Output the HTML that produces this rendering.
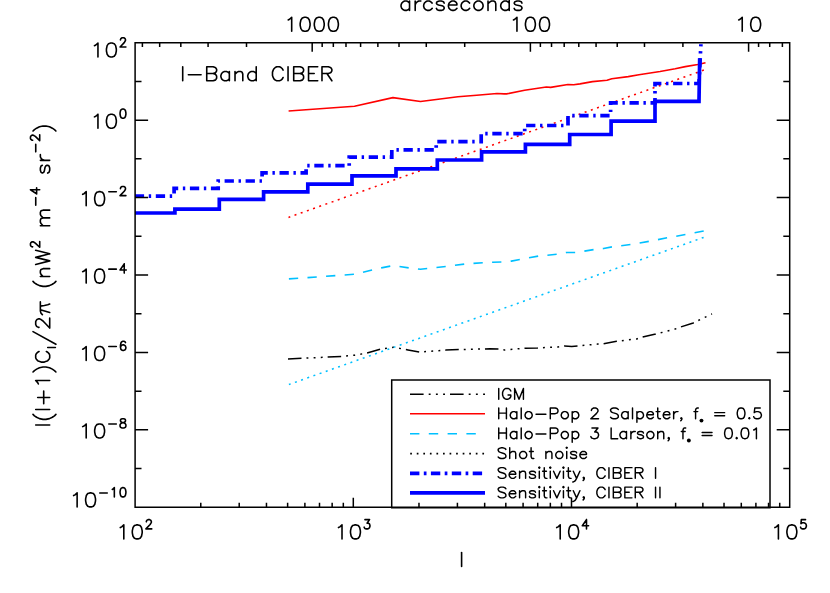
<!DOCTYPE html>
<html><head><meta charset="utf-8"><title>plot</title><style>html,body{margin:0;padding:0;background:#fff;font-family:"Liberation Sans",sans-serif}svg{display:block}</style></head><body>
<svg width="830" height="593" viewBox="0 0 830 593">
<rect width="830" height="593" fill="#fff"/>
<defs><clipPath id="c"><rect x="135.1" y="44.3" width="654.6" height="463"/></clipPath></defs>
<g clip-path="url(#c)" fill="none">
<path d="M288 358.9 L341.4 356.5 L354.5 355.2 L366.7 353.1 L380.5 349.2 L393.7 347.2 L408 350 L419.8 352.1 L445.8 350.1 L458.8 349.6 L490 348.8 L498.7 349 L504.5 350 L524.7 348.2 L537.7 347.9 L558 346.9 L564.5 345.9 L571.7 346.6 L577.5 345.9 L597.7 344.1 L603.6 343.8 L616.6 341.3 L636.9 338.9 L642.6 337.1 L655.7 334.1 L674.5 329.3 L681 326.9 L693.2 323 L712 313.9" stroke="#000" stroke-width="1.5" stroke-dasharray="13.5 5 1.9 5.25 1.9 5.25 1.9 5" />
<path d="M288.6 111 L354.5 106.3 L392.9 97.6 L420.5 101.5 L457.9 96.7 L476.7 95.2 L497 93.5 L504.2 93.9 L506.5 93.9 L524.6 90.3 L546.3 87 L550.6 87.4 L567.9 84.5 L573.7 84.8 L580 83.9 L592.5 81.6 L607 80.2 L611.8 78.7 L628.2 76.6 L638.9 74.7 L660 71.5 L675.2 68.8 L685.3 66.6 L697.8 64.5 L705.5 62.8" stroke="#f00" stroke-width="1.6" stroke-linejoin="round"/>
<path d="M288.9 278.9 L354 274.3 L381.4 267.9 L393 265.6 L408.9 267.9 L420.5 269.3 L445.9 266.5 L464.3 264.1 L483.1 262.7 L492.6 262.3 L501.6 262 L511.4 261.1 L520.1 259.4 L538.4 256.1 L556.9 254.3 L566.6 252.5 L575.6 252.5 L593.8 249.6 L603.6 248.5 L612.3 246.8 L630.6 244.5 L649.2 241.3 L667.2 237.8 L685.6 234.5 L703.8 230.9" stroke="#00c0ff" stroke-width="1.6" stroke-dasharray="9.3 9.33"/>
<path d="M288.5 217.4 L704.2 69.95" stroke="#f00" stroke-width="1.55" stroke-dasharray="2 4.55" stroke-dashoffset="0.15"/>
<path d="M288.9 384.5 L704.0 237.3" stroke="#00c0ff" stroke-width="1.55" stroke-dasharray="2 4.54" stroke-dashoffset="0.15"/>
<path d="M130 196.2 L174.1 196.2 L174.1 188.3 L218.2 188.3 L218.2 181 L262.1 181 L262.1 172.9 L306.1 172.9 L306.1 165.7 L349.2 165.7 L349.2 157.1 L391.8 157.1 L391.8 149.9 L436.2 149.9 L436.2 141.7 L481.2 141.7 L481.2 133.7 L524.7 133.7 L524.7 125.5 L568 125.5 L568 115.7 L610.6 115.7 L610.6 102.9 L655 102.9 L655 83.5 L699 83.5 L701.3 36" stroke="#00f" stroke-width="3.7" stroke-linejoin="miter" stroke-dasharray="9.3 4.65 2.4 4.65" stroke-dashoffset="16.2"/>
<path d="M130 213 L174.9 213 L174.9 209.1 L219.3 209.1 L219.3 199.3 L263.6 199.3 L263.6 191.9 L307.8 191.9 L307.8 184.2 L352 184.2 L352 175.9 L396 175.9 L396 168.8 L437.3 168.8 L437.3 160 L481.6 160 L481.6 151.9 L525.4 151.9 L525.4 144.3 L569.7 144.3 L569.7 134.5 L611.1 134.5 L611.1 121.2 L655 121.2 L655 101.3 L699 101.3 L699.7 58.2" stroke="#00f" stroke-width="3.7" stroke-linejoin="miter"/>
</g>
<path d="M135.1 42.7 H789.7 V507.3 H135.1 ZM135.1 507.3 v-9.5M200.78 507.3 v-4.5M239.21 507.3 v-4.5M266.47 507.3 v-4.5M287.62 507.3 v-4.5M304.89 507.3 v-4.5M319.5 507.3 v-4.5M332.15 507.3 v-4.5M343.32 507.3 v-4.5M353.3 507.3 v-9.5M418.98 507.3 v-4.5M457.41 507.3 v-4.5M484.67 507.3 v-4.5M505.82 507.3 v-4.5M523.09 507.3 v-4.5M537.7 507.3 v-4.5M550.35 507.3 v-4.5M561.52 507.3 v-4.5M571.5 507.3 v-9.5M637.18 507.3 v-4.5M675.61 507.3 v-4.5M702.87 507.3 v-4.5M724.02 507.3 v-4.5M741.29 507.3 v-4.5M755.9 507.3 v-4.5M768.55 507.3 v-4.5M779.72 507.3 v-4.5M789.7 507.3 v-9.5M782.39 42.7 v4.4M769.73 42.7 v4.4M758.57 42.7 v4.4M748.59 42.7 v9M682.9 42.7 v4.4M644.48 42.7 v4.4M617.22 42.7 v4.4M596.07 42.7 v4.4M578.79 42.7 v4.4M564.19 42.7 v4.4M551.53 42.7 v4.4M540.37 42.7 v4.4M530.39 42.7 v9M464.7 42.7 v4.4M426.28 42.7 v4.4M399.02 42.7 v4.4M377.87 42.7 v4.4M360.59 42.7 v4.4M345.99 42.7 v4.4M333.33 42.7 v4.4M322.17 42.7 v4.4M312.19 42.7 v9M246.5 42.7 v4.4M208.08 42.7 v4.4M180.82 42.7 v4.4M159.67 42.7 v4.4M142.39 42.7 v4.4M135.1 507.3 h13M789.7 507.3 h-13M135.1 468.58 h6.4M789.7 468.58 h-6.4M135.1 429.87 h13M789.7 429.87 h-13M135.1 391.15 h6.4M789.7 391.15 h-6.4M135.1 352.43 h13M789.7 352.43 h-13M135.1 313.72 h6.4M789.7 313.72 h-6.4M135.1 275 h13M789.7 275 h-13M135.1 236.28 h6.4M789.7 236.28 h-6.4M135.1 197.57 h13M789.7 197.57 h-13M135.1 158.85 h6.4M789.7 158.85 h-6.4M135.1 120.13 h13M789.7 120.13 h-13M135.1 81.42 h6.4M789.7 81.42 h-6.4M135.1 42.7 h13M789.7 42.7 h-13" fill="none" stroke="#000" stroke-width="1.5" stroke-linecap="butt" stroke-linejoin="miter"/>
<path d="M391.7 507.8 V379.9 H770 V507.8 Z" fill="none" stroke="#000" stroke-width="1.5"/>
<path d="M410 394.2 H485" stroke="#000" stroke-width="1.5" stroke-dasharray="13.6 5.1 1.9 5.3 1.9 5.3 1.9 5.0"/>
<path d="M410 413.8 H485" stroke="#f00" stroke-width="1.6"/>
<path d="M410 433.7 H485" stroke="#00c0ff" stroke-width="1.6" stroke-dasharray="9.4 9.4"/>
<path d="M410.2 453.6 H485" stroke="#000" stroke-width="1.6" stroke-dasharray="1.7 4.86"/>
<path d="M410 473.4 H485" stroke="#00f" stroke-width="3.7" stroke-dasharray="9.4 4.4 2.7 4.4"/>
<path d="M410 492.9 H485" stroke="#00f" stroke-width="3.8"/>
<g transform="translate(496.55 399.15)"><path d="M2.19 -10.72 L2.19 0M14.26 -8.16 L13.71 -9.18 L12.61 -10.21 L11.51 -10.72 L9.32 -10.72 L8.22 -10.21 L7.13 -9.18 L6.58 -8.16 L6.03 -6.63 L6.03 -4.08 L6.58 -2.55 L7.13 -1.53 L8.22 -0.51 L9.32 0 L11.51 0 L12.61 -0.51 L13.71 -1.53 L14.26 -2.55 L14.26 -4.08M11.51 -4.08 L14.26 -4.08M18.09 -10.72 L18.09 0M18.09 -10.72 L22.48 0M26.87 -10.72 L22.48 0M26.87 -10.72 L26.87 0" fill="none" stroke="#000" stroke-width="1.45" stroke-linecap="round" stroke-linejoin="round"/></g>
<g transform="translate(496.55 418.75)"><path d="M2.19 -10.72 L2.19 0M9.87 -10.72 L9.87 0M2.19 -5.61 L9.87 -5.61M20.29 -7.14 L20.29 0M20.29 -5.61 L19.19 -6.63 L18.09 -7.14 L16.45 -7.14 L15.35 -6.63 L14.26 -5.61 L13.71 -4.08 L13.71 -3.06 L14.26 -1.53 L15.35 -0.51 L16.45 0 L18.09 0 L19.19 -0.51 L20.29 -1.53M24.67 -10.72 L24.67 0M31.25 -7.14 L30.16 -6.63 L29.06 -5.61 L28.51 -4.08 L28.51 -3.06 L29.06 -1.53 L30.16 -0.51 L31.25 0 L32.9 0 L33.99 -0.51 L35.09 -1.53 L35.64 -3.06 L35.64 -4.08 L35.09 -5.61 L33.99 -6.63 L32.9 -7.14 L31.25 -7.14M39.48 -4.59 L49.35 -4.59M53.73 -10.72 L53.73 0M53.73 -10.72 L58.67 -10.72 L60.31 -10.21 L60.86 -9.69 L61.41 -8.67 L61.41 -7.14 L60.86 -6.12 L60.31 -5.61 L58.67 -5.1 L53.73 -5.1M67.44 -7.14 L66.34 -6.63 L65.25 -5.61 L64.7 -4.08 L64.7 -3.06 L65.25 -1.53 L66.34 -0.51 L67.44 0 L69.08 0 L70.18 -0.51 L71.28 -1.53 L71.82 -3.06 L71.82 -4.08 L71.28 -5.61 L70.18 -6.63 L69.08 -7.14 L67.44 -7.14M75.66 -7.14 L75.66 3.57M75.66 -5.61 L76.76 -6.63 L77.86 -7.14 L79.5 -7.14 L80.6 -6.63 L81.69 -5.61 L82.24 -4.08 L82.24 -3.06 L81.69 -1.53 L80.6 -0.51 L79.5 0 L77.86 0 L76.76 -0.51 L75.66 -1.53M94.85 -8.16 L94.85 -8.67 L95.4 -9.69 L95.95 -10.21 L97.05 -10.72 L99.24 -10.72 L100.33 -10.21 L100.88 -9.69 L101.43 -8.67 L101.43 -7.65 L100.88 -6.63 L99.79 -5.1 L94.3 0 L101.98 0M121.72 -9.18 L120.62 -10.21 L118.98 -10.72 L116.78 -10.72 L115.14 -10.21 L114.04 -9.18 L114.04 -8.16 L114.59 -7.14 L115.14 -6.63 L116.24 -6.12 L119.52 -5.1 L120.62 -4.59 L121.17 -4.08 L121.72 -3.06 L121.72 -1.53 L120.62 -0.51 L118.98 0 L116.78 0 L115.14 -0.51 L114.04 -1.53M131.59 -7.14 L131.59 0M131.59 -5.61 L130.49 -6.63 L129.39 -7.14 L127.75 -7.14 L126.65 -6.63 L125.56 -5.61 L125.01 -4.08 L125.01 -3.06 L125.56 -1.53 L126.65 -0.51 L127.75 0 L129.39 0 L130.49 -0.51 L131.59 -1.53M135.97 -10.72 L135.97 0M140.36 -7.14 L140.36 3.57M140.36 -5.61 L141.46 -6.63 L142.55 -7.14 L144.2 -7.14 L145.29 -6.63 L146.39 -5.61 L146.94 -4.08 L146.94 -3.06 L146.39 -1.53 L145.29 -0.51 L144.2 0 L142.55 0 L141.46 -0.51 L140.36 -1.53M150.23 -4.08 L156.81 -4.08 L156.81 -5.1 L156.26 -6.12 L155.71 -6.63 L154.61 -7.14 L152.97 -7.14 L151.87 -6.63 L150.78 -5.61 L150.23 -4.08 L150.23 -3.06 L150.78 -1.53 L151.87 -0.51 L152.97 0 L154.61 0 L155.71 -0.51 L156.81 -1.53M161.19 -10.72 L161.19 -2.04 L161.74 -0.51 L162.84 0 L163.94 0M159.55 -7.14 L163.39 -7.14M166.68 -4.08 L173.26 -4.08 L173.26 -5.1 L172.71 -6.12 L172.16 -6.63 L171.06 -7.14 L169.42 -7.14 L168.32 -6.63 L167.22 -5.61 L166.68 -4.08 L166.68 -3.06 L167.22 -1.53 L168.32 -0.51 L169.42 0 L171.06 0 L172.16 -0.51 L173.26 -1.53M177.09 -7.14 L177.09 0M177.09 -4.08 L177.64 -5.61 L178.74 -6.63 L179.84 -7.14 L181.48 -7.14M184.77 0 L184.22 -0.51 L184.77 -1.02 L185.32 -0.51 L185.32 0.51 L184.77 1.53 L184.22 2.04M201.77 -10.72 L200.67 -10.72 L199.57 -10.21 L199.03 -8.67 L199.03 0M197.38 -7.14 L201.22 -7.14M218.21 -6.12 L228.08 -6.12M218.21 -3.06 L228.08 -3.06M243.98 -10.72 L242.34 -10.21 L241.24 -8.67 L240.69 -6.12 L240.69 -4.59 L241.24 -2.04 L242.34 -0.51 L243.98 0 L245.08 0 L246.73 -0.51 L247.82 -2.04 L248.37 -4.59 L248.37 -6.12 L247.82 -8.67 L246.73 -10.21 L245.08 -10.72 L243.98 -10.72M252.76 -1.02 L252.21 -0.51 L252.76 0 L253.3 -0.51 L252.76 -1.02M263.72 -10.72 L258.24 -10.72 L257.69 -6.12 L258.24 -6.63 L259.88 -7.14 L261.53 -7.14 L263.17 -6.63 L264.27 -5.61 L264.82 -4.08 L264.82 -3.06 L264.27 -1.53 L263.17 -0.51 L261.53 0 L259.88 0 L258.24 -0.51 L257.69 -1.02 L257.14 -2.04" fill="none" stroke="#000" stroke-width="1.45" stroke-linecap="round" stroke-linejoin="round"/><circle cx="204.92" cy="1.86" r="1.95" fill="#000"/></g>
<g transform="translate(496.55 438.65)"><path d="M2.19 -10.72 L2.19 0M9.87 -10.72 L9.87 0M2.19 -5.61 L9.87 -5.61M20.29 -7.14 L20.29 0M20.29 -5.61 L19.19 -6.63 L18.09 -7.14 L16.45 -7.14 L15.35 -6.63 L14.26 -5.61 L13.71 -4.08 L13.71 -3.06 L14.26 -1.53 L15.35 -0.51 L16.45 0 L18.09 0 L19.19 -0.51 L20.29 -1.53M24.67 -10.72 L24.67 0M31.25 -7.14 L30.16 -6.63 L29.06 -5.61 L28.51 -4.08 L28.51 -3.06 L29.06 -1.53 L30.16 -0.51 L31.25 0 L32.9 0 L33.99 -0.51 L35.09 -1.53 L35.64 -3.06 L35.64 -4.08 L35.09 -5.61 L33.99 -6.63 L32.9 -7.14 L31.25 -7.14M39.48 -4.59 L49.35 -4.59M53.73 -10.72 L53.73 0M53.73 -10.72 L58.67 -10.72 L60.31 -10.21 L60.86 -9.69 L61.41 -8.67 L61.41 -7.14 L60.86 -6.12 L60.31 -5.61 L58.67 -5.1 L53.73 -5.1M67.44 -7.14 L66.34 -6.63 L65.25 -5.61 L64.7 -4.08 L64.7 -3.06 L65.25 -1.53 L66.34 -0.51 L67.44 0 L69.08 0 L70.18 -0.51 L71.28 -1.53 L71.82 -3.06 L71.82 -4.08 L71.28 -5.61 L70.18 -6.63 L69.08 -7.14 L67.44 -7.14M75.66 -7.14 L75.66 3.57M75.66 -5.61 L76.76 -6.63 L77.86 -7.14 L79.5 -7.14 L80.6 -6.63 L81.69 -5.61 L82.24 -4.08 L82.24 -3.06 L81.69 -1.53 L80.6 -0.51 L79.5 0 L77.86 0 L76.76 -0.51 L75.66 -1.53M95.4 -10.72 L101.43 -10.72 L98.14 -6.63 L99.79 -6.63 L100.88 -6.12 L101.43 -5.61 L101.98 -4.08 L101.98 -3.06 L101.43 -1.53 L100.33 -0.51 L98.69 0 L97.05 0 L95.4 -0.51 L94.85 -1.02 L94.3 -2.04M114.59 -10.72 L114.59 0M114.59 0 L121.17 0M129.94 -7.14 L129.94 0M129.94 -5.61 L128.85 -6.63 L127.75 -7.14 L126.1 -7.14 L125.01 -6.63 L123.91 -5.61 L123.36 -4.08 L123.36 -3.06 L123.91 -1.53 L125.01 -0.51 L126.1 0 L127.75 0 L128.85 -0.51 L129.94 -1.53M134.33 -7.14 L134.33 0M134.33 -4.08 L134.88 -5.61 L135.97 -6.63 L137.07 -7.14 L138.71 -7.14M146.94 -5.61 L146.39 -6.63 L144.75 -7.14 L143.1 -7.14 L141.46 -6.63 L140.91 -5.61 L141.46 -4.59 L142.55 -4.08 L145.29 -3.57 L146.39 -3.06 L146.94 -2.04 L146.94 -1.53 L146.39 -0.51 L144.75 0 L143.1 0 L141.46 -0.51 L140.91 -1.53M152.97 -7.14 L151.87 -6.63 L150.78 -5.61 L150.23 -4.08 L150.23 -3.06 L150.78 -1.53 L151.87 -0.51 L152.97 0 L154.61 0 L155.71 -0.51 L156.81 -1.53 L157.36 -3.06 L157.36 -4.08 L156.81 -5.61 L155.71 -6.63 L154.61 -7.14 L152.97 -7.14M161.19 -7.14 L161.19 0M161.19 -5.1 L162.84 -6.63 L163.94 -7.14 L165.58 -7.14 L166.68 -6.63 L167.22 -5.1 L167.22 0M172.16 0 L171.61 -0.51 L172.16 -1.02 L172.71 -0.51 L172.71 0.51 L172.16 1.53 L171.61 2.04M189.16 -10.72 L188.06 -10.72 L186.96 -10.21 L186.41 -8.67 L186.41 0M184.77 -7.14 L188.61 -7.14M205.6 -6.12 L215.47 -6.12M205.6 -3.06 L215.47 -3.06M231.37 -10.72 L229.73 -10.21 L228.63 -8.67 L228.08 -6.12 L228.08 -4.59 L228.63 -2.04 L229.73 -0.51 L231.37 0 L232.47 0 L234.11 -0.51 L235.21 -2.04 L235.76 -4.59 L235.76 -6.12 L235.21 -8.67 L234.11 -10.21 L232.47 -10.72 L231.37 -10.72M240.15 -1.02 L239.6 -0.51 L240.15 0 L240.69 -0.51 L240.15 -1.02M247.82 -10.72 L246.18 -10.21 L245.08 -8.67 L244.53 -6.12 L244.53 -4.59 L245.08 -2.04 L246.18 -0.51 L247.82 0 L248.92 0 L250.56 -0.51 L251.66 -2.04 L252.21 -4.59 L252.21 -6.12 L251.66 -8.67 L250.56 -10.21 L248.92 -10.72 L247.82 -10.72M257.14 -8.67 L258.24 -9.18 L259.88 -10.72 L259.88 0" fill="none" stroke="#000" stroke-width="1.45" stroke-linecap="round" stroke-linejoin="round"/><circle cx="192.31" cy="1.86" r="1.95" fill="#000"/></g>
<g transform="translate(496.55 458.55)"><path d="M9.32 -9.18 L8.22 -10.21 L6.58 -10.72 L4.39 -10.72 L2.74 -10.21 L1.64 -9.18 L1.64 -8.16 L2.19 -7.14 L2.74 -6.63 L3.84 -6.12 L7.13 -5.1 L8.22 -4.59 L8.77 -4.08 L9.32 -3.06 L9.32 -1.53 L8.22 -0.51 L6.58 0 L4.39 0 L2.74 -0.51 L1.64 -1.53M13.16 -10.72 L13.16 0M13.16 -5.1 L14.8 -6.63 L15.9 -7.14 L17.54 -7.14 L18.64 -6.63 L19.19 -5.1 L19.19 0M25.77 -7.14 L24.67 -6.63 L23.58 -5.61 L23.03 -4.08 L23.03 -3.06 L23.58 -1.53 L24.67 -0.51 L25.77 0 L27.41 0 L28.51 -0.51 L29.61 -1.53 L30.16 -3.06 L30.16 -4.08 L29.61 -5.61 L28.51 -6.63 L27.41 -7.14 L25.77 -7.14M34.54 -10.72 L34.54 -2.04 L35.09 -0.51 L36.19 0 L37.28 0M32.9 -7.14 L36.73 -7.14M49.35 -7.14 L49.35 0M49.35 -5.1 L50.99 -6.63 L52.09 -7.14 L53.73 -7.14 L54.83 -6.63 L55.38 -5.1 L55.38 0M61.96 -7.14 L60.86 -6.63 L59.76 -5.61 L59.21 -4.08 L59.21 -3.06 L59.76 -1.53 L60.86 -0.51 L61.96 0 L63.6 0 L64.7 -0.51 L65.79 -1.53 L66.34 -3.06 L66.34 -4.08 L65.79 -5.61 L64.7 -6.63 L63.6 -7.14 L61.96 -7.14M69.63 -10.72 L70.18 -10.21 L70.73 -10.72 L70.18 -11.23 L69.63 -10.72M70.18 -7.14 L70.18 0M80.05 -5.61 L79.5 -6.63 L77.86 -7.14 L76.21 -7.14 L74.57 -6.63 L74.02 -5.61 L74.57 -4.59 L75.66 -4.08 L78.4 -3.57 L79.5 -3.06 L80.05 -2.04 L80.05 -1.53 L79.5 -0.51 L77.86 0 L76.21 0 L74.57 -0.51 L74.02 -1.53M83.34 -4.08 L89.92 -4.08 L89.92 -5.1 L89.37 -6.12 L88.82 -6.63 L87.72 -7.14 L86.08 -7.14 L84.98 -6.63 L83.89 -5.61 L83.34 -4.08 L83.34 -3.06 L83.89 -1.53 L84.98 -0.51 L86.08 0 L87.72 0 L88.82 -0.51 L89.92 -1.53" fill="none" stroke="#000" stroke-width="1.45" stroke-linecap="round" stroke-linejoin="round"/></g>
<g transform="translate(496.55 478.35)"><path d="M9.32 -9.18 L8.22 -10.21 L6.58 -10.72 L4.39 -10.72 L2.74 -10.21 L1.64 -9.18 L1.64 -8.16 L2.19 -7.14 L2.74 -6.63 L3.84 -6.12 L7.13 -5.1 L8.22 -4.59 L8.77 -4.08 L9.32 -3.06 L9.32 -1.53 L8.22 -0.51 L6.58 0 L4.39 0 L2.74 -0.51 L1.64 -1.53M12.61 -4.08 L19.19 -4.08 L19.19 -5.1 L18.64 -6.12 L18.09 -6.63 L17 -7.14 L15.35 -7.14 L14.26 -6.63 L13.16 -5.61 L12.61 -4.08 L12.61 -3.06 L13.16 -1.53 L14.26 -0.51 L15.35 0 L17 0 L18.09 -0.51 L19.19 -1.53M23.03 -7.14 L23.03 0M23.03 -5.1 L24.67 -6.63 L25.77 -7.14 L27.41 -7.14 L28.51 -6.63 L29.06 -5.1 L29.06 0M38.93 -5.61 L38.38 -6.63 L36.73 -7.14 L35.09 -7.14 L33.44 -6.63 L32.9 -5.61 L33.44 -4.59 L34.54 -4.08 L37.28 -3.57 L38.38 -3.06 L38.93 -2.04 L38.93 -1.53 L38.38 -0.51 L36.73 0 L35.09 0 L33.44 -0.51 L32.9 -1.53M42.22 -10.72 L42.77 -10.21 L43.31 -10.72 L42.77 -11.23 L42.22 -10.72M42.77 -7.14 L42.77 0M47.7 -10.72 L47.7 -2.04 L48.25 -0.51 L49.35 0 L50.44 0M46.06 -7.14 L49.89 -7.14M53.18 -10.72 L53.73 -10.21 L54.28 -10.72 L53.73 -11.23 L53.18 -10.72M53.73 -7.14 L53.73 0M57.02 -7.14 L60.31 0M63.6 -7.14 L60.31 0M66.34 -10.72 L66.89 -10.21 L67.44 -10.72 L66.89 -11.23 L66.34 -10.72M66.89 -7.14 L66.89 0M71.82 -10.72 L71.82 -2.04 L72.37 -0.51 L73.47 0 L74.57 0M70.18 -7.14 L74.02 -7.14M76.76 -7.14 L80.05 0M83.34 -7.14 L80.05 0 L78.95 2.04 L77.86 3.06 L76.76 3.57 L76.21 3.57M87.18 0 L86.63 -0.51 L87.18 -1.02 L87.72 -0.51 L87.72 0.51 L87.18 1.53 L86.63 2.04M108.56 -8.16 L108.01 -9.18 L106.91 -10.21 L105.82 -10.72 L103.62 -10.72 L102.53 -10.21 L101.43 -9.18 L100.88 -8.16 L100.33 -6.63 L100.33 -4.08 L100.88 -2.55 L101.43 -1.53 L102.53 -0.51 L103.62 0 L105.82 0 L106.91 -0.51 L108.01 -1.53 L108.56 -2.55M112.4 -10.72 L112.4 0M116.78 -10.72 L116.78 0M116.78 -10.72 L121.72 -10.72 L123.36 -10.21 L123.91 -9.69 L124.46 -8.67 L124.46 -7.65 L123.91 -6.63 L123.36 -6.12 L121.72 -5.61M116.78 -5.61 L121.72 -5.61 L123.36 -5.1 L123.91 -4.59 L124.46 -3.57 L124.46 -2.04 L123.91 -1.02 L123.36 -0.51 L121.72 0 L116.78 0M128.3 -10.72 L128.3 0M128.3 -10.72 L135.42 -10.72M128.3 -5.61 L132.68 -5.61M128.3 0 L135.42 0M138.71 -10.72 L138.71 0M138.71 -10.72 L143.65 -10.72 L145.29 -10.21 L145.84 -9.69 L146.39 -8.67 L146.39 -7.65 L145.84 -6.63 L145.29 -6.12 L143.65 -5.61 L138.71 -5.61M142.55 -5.61 L146.39 0M159 -10.72 L159 0" fill="none" stroke="#000" stroke-width="1.45" stroke-linecap="round" stroke-linejoin="round"/></g>
<g transform="translate(496.55 497.85)"><path d="M9.32 -9.18 L8.22 -10.21 L6.58 -10.72 L4.39 -10.72 L2.74 -10.21 L1.64 -9.18 L1.64 -8.16 L2.19 -7.14 L2.74 -6.63 L3.84 -6.12 L7.13 -5.1 L8.22 -4.59 L8.77 -4.08 L9.32 -3.06 L9.32 -1.53 L8.22 -0.51 L6.58 0 L4.39 0 L2.74 -0.51 L1.64 -1.53M12.61 -4.08 L19.19 -4.08 L19.19 -5.1 L18.64 -6.12 L18.09 -6.63 L17 -7.14 L15.35 -7.14 L14.26 -6.63 L13.16 -5.61 L12.61 -4.08 L12.61 -3.06 L13.16 -1.53 L14.26 -0.51 L15.35 0 L17 0 L18.09 -0.51 L19.19 -1.53M23.03 -7.14 L23.03 0M23.03 -5.1 L24.67 -6.63 L25.77 -7.14 L27.41 -7.14 L28.51 -6.63 L29.06 -5.1 L29.06 0M38.93 -5.61 L38.38 -6.63 L36.73 -7.14 L35.09 -7.14 L33.44 -6.63 L32.9 -5.61 L33.44 -4.59 L34.54 -4.08 L37.28 -3.57 L38.38 -3.06 L38.93 -2.04 L38.93 -1.53 L38.38 -0.51 L36.73 0 L35.09 0 L33.44 -0.51 L32.9 -1.53M42.22 -10.72 L42.77 -10.21 L43.31 -10.72 L42.77 -11.23 L42.22 -10.72M42.77 -7.14 L42.77 0M47.7 -10.72 L47.7 -2.04 L48.25 -0.51 L49.35 0 L50.44 0M46.06 -7.14 L49.89 -7.14M53.18 -10.72 L53.73 -10.21 L54.28 -10.72 L53.73 -11.23 L53.18 -10.72M53.73 -7.14 L53.73 0M57.02 -7.14 L60.31 0M63.6 -7.14 L60.31 0M66.34 -10.72 L66.89 -10.21 L67.44 -10.72 L66.89 -11.23 L66.34 -10.72M66.89 -7.14 L66.89 0M71.82 -10.72 L71.82 -2.04 L72.37 -0.51 L73.47 0 L74.57 0M70.18 -7.14 L74.02 -7.14M76.76 -7.14 L80.05 0M83.34 -7.14 L80.05 0 L78.95 2.04 L77.86 3.06 L76.76 3.57 L76.21 3.57M87.18 0 L86.63 -0.51 L87.18 -1.02 L87.72 -0.51 L87.72 0.51 L87.18 1.53 L86.63 2.04M108.56 -8.16 L108.01 -9.18 L106.91 -10.21 L105.82 -10.72 L103.62 -10.72 L102.53 -10.21 L101.43 -9.18 L100.88 -8.16 L100.33 -6.63 L100.33 -4.08 L100.88 -2.55 L101.43 -1.53 L102.53 -0.51 L103.62 0 L105.82 0 L106.91 -0.51 L108.01 -1.53 L108.56 -2.55M112.4 -10.72 L112.4 0M116.78 -10.72 L116.78 0M116.78 -10.72 L121.72 -10.72 L123.36 -10.21 L123.91 -9.69 L124.46 -8.67 L124.46 -7.65 L123.91 -6.63 L123.36 -6.12 L121.72 -5.61M116.78 -5.61 L121.72 -5.61 L123.36 -5.1 L123.91 -4.59 L124.46 -3.57 L124.46 -2.04 L123.91 -1.02 L123.36 -0.51 L121.72 0 L116.78 0M128.3 -10.72 L128.3 0M128.3 -10.72 L135.42 -10.72M128.3 -5.61 L132.68 -5.61M128.3 0 L135.42 0M138.71 -10.72 L138.71 0M138.71 -10.72 L143.65 -10.72 L145.29 -10.21 L145.84 -9.69 L146.39 -8.67 L146.39 -7.65 L145.84 -6.63 L145.29 -6.12 L143.65 -5.61 L138.71 -5.61M142.55 -5.61 L146.39 0M159 -10.72 L159 0M163.39 -10.72 L163.39 0" fill="none" stroke="#000" stroke-width="1.45" stroke-linecap="round" stroke-linejoin="round"/></g>
<g transform="translate(461.5 10.4)"><path d="M-51.96 -9.34 L-51.96 0M-51.96 -7.34 L-53.38 -8.67 L-54.79 -9.34 L-56.91 -9.34 L-58.33 -8.67 L-59.74 -7.34 L-60.45 -5.34 L-60.45 -4 L-59.74 -2 L-58.33 -0.67 L-56.91 0 L-54.79 0 L-53.38 -0.67 L-51.96 -2M-46.31 -9.34 L-46.31 0M-46.31 -5.34 L-45.6 -7.34 L-44.19 -8.67 L-42.77 -9.34 L-40.65 -9.34M-29.34 -7.34 L-30.75 -8.67 L-32.17 -9.34 L-34.29 -9.34 L-35.7 -8.67 L-37.12 -7.34 L-37.82 -5.34 L-37.82 -4 L-37.12 -2 L-35.7 -0.67 L-34.29 0 L-32.17 0 L-30.75 -0.67 L-29.34 -2M-17.32 -7.34 L-18.03 -8.67 L-20.15 -9.34 L-22.27 -9.34 L-24.39 -8.67 L-25.1 -7.34 L-24.39 -6 L-22.98 -5.34 L-19.44 -4.67 L-18.03 -4 L-17.32 -2.67 L-17.32 -2 L-18.03 -0.67 L-20.15 0 L-22.27 0 L-24.39 -0.67 L-25.1 -2M-13.08 -5.34 L-4.6 -5.34 L-4.6 -6.67 L-5.3 -8 L-6.01 -8.67 L-7.42 -9.34 L-9.54 -9.34 L-10.96 -8.67 L-12.37 -7.34 L-13.08 -5.34 L-13.08 -4 L-12.37 -2 L-10.96 -0.67 L-9.54 0 L-7.42 0 L-6.01 -0.67 L-4.6 -2M8.13 -7.34 L6.72 -8.67 L5.3 -9.34 L3.18 -9.34 L1.77 -8.67 L0.35 -7.34 L-0.35 -5.34 L-0.35 -4 L0.35 -2 L1.77 -0.67 L3.18 0 L5.3 0 L6.72 -0.67 L8.13 -2M15.91 -9.34 L14.49 -8.67 L13.08 -7.34 L12.37 -5.34 L12.37 -4 L13.08 -2 L14.49 -0.67 L15.91 0 L18.03 0 L19.44 -0.67 L20.86 -2 L21.56 -4 L21.56 -5.34 L20.86 -7.34 L19.44 -8.67 L18.03 -9.34 L15.91 -9.34M26.51 -9.34 L26.51 0M26.51 -6.67 L28.63 -8.67 L30.05 -9.34 L32.17 -9.34 L33.58 -8.67 L34.29 -6.67 L34.29 0M47.72 -14.01 L47.72 0M47.72 -7.34 L46.31 -8.67 L44.89 -9.34 L42.77 -9.34 L41.36 -8.67 L39.95 -7.34 L39.24 -5.34 L39.24 -4 L39.95 -2 L41.36 -0.67 L42.77 0 L44.89 0 L46.31 -0.67 L47.72 -2M60.45 -7.34 L59.74 -8.67 L57.62 -9.34 L55.5 -9.34 L53.38 -8.67 L52.67 -7.34 L53.38 -6 L54.79 -5.34 L58.33 -4.67 L59.74 -4 L60.45 -2.67 L60.45 -2 L59.74 -0.67 L57.62 0 L55.5 0 L53.38 -0.67 L52.67 -2" fill="none" stroke="#000" stroke-width="1.6" stroke-linecap="round" stroke-linejoin="round"/></g>
<g transform="translate(312.19 31.3)"><path d="M-24.04 -11.34 L-22.62 -12.01 L-20.5 -14.01 L-20.5 0M-7.78 -14.01 L-9.9 -13.34 L-11.31 -11.34 L-12.02 -8 L-12.02 -6 L-11.31 -2.67 L-9.9 -0.67 L-7.78 0 L-6.36 0 L-4.24 -0.67 L-2.83 -2.67 L-2.12 -6 L-2.12 -8 L-2.83 -11.34 L-4.24 -13.34 L-6.36 -14.01 L-7.78 -14.01M6.36 -14.01 L4.24 -13.34 L2.83 -11.34 L2.12 -8 L2.12 -6 L2.83 -2.67 L4.24 -0.67 L6.36 0 L7.78 0 L9.9 -0.67 L11.31 -2.67 L12.02 -6 L12.02 -8 L11.31 -11.34 L9.9 -13.34 L7.78 -14.01 L6.36 -14.01M20.5 -14.01 L18.38 -13.34 L16.97 -11.34 L16.26 -8 L16.26 -6 L16.97 -2.67 L18.38 -0.67 L20.5 0 L21.92 0 L24.04 -0.67 L25.45 -2.67 L26.16 -6 L26.16 -8 L25.45 -11.34 L24.04 -13.34 L21.92 -14.01 L20.5 -14.01" fill="none" stroke="#000" stroke-width="1.6" stroke-linecap="round" stroke-linejoin="round"/></g>
<g transform="translate(530.39 31.3)"><path d="M-16.97 -11.34 L-15.55 -12.01 L-13.43 -14.01 L-13.43 0M-0.71 -14.01 L-2.83 -13.34 L-4.24 -11.34 L-4.95 -8 L-4.95 -6 L-4.24 -2.67 L-2.83 -0.67 L-0.71 0 L0.71 0 L2.83 -0.67 L4.24 -2.67 L4.95 -6 L4.95 -8 L4.24 -11.34 L2.83 -13.34 L0.71 -14.01 L-0.71 -14.01M13.43 -14.01 L11.31 -13.34 L9.9 -11.34 L9.19 -8 L9.19 -6 L9.9 -2.67 L11.31 -0.67 L13.43 0 L14.85 0 L16.97 -0.67 L18.38 -2.67 L19.09 -6 L19.09 -8 L18.38 -11.34 L16.97 -13.34 L14.85 -14.01 L13.43 -14.01" fill="none" stroke="#000" stroke-width="1.6" stroke-linecap="round" stroke-linejoin="round"/></g>
<g transform="translate(748.59 31.3)"><path d="M-9.9 -11.34 L-8.48 -12.01 L-6.36 -14.01 L-6.36 0M6.36 -14.01 L4.24 -13.34 L2.83 -11.34 L2.12 -8 L2.12 -6 L2.83 -2.67 L4.24 -0.67 L6.36 0 L7.78 0 L9.9 -0.67 L11.31 -2.67 L12.02 -6 L12.02 -8 L11.31 -11.34 L9.9 -13.34 L7.78 -14.01 L6.36 -14.01" fill="none" stroke="#000" stroke-width="1.6" stroke-linecap="round" stroke-linejoin="round"/></g>
<g transform="translate(134.7 538.9)"><path d="M-14.42 -11.34 L-13.01 -12.01 L-10.89 -14.01 L-10.89 0M1.84 -14.01 L-0.28 -13.34 L-1.7 -11.34 L-2.4 -8 L-2.4 -6 L-1.7 -2.67 L-0.28 -0.67 L1.84 0 L3.25 0 L5.37 -0.67 L6.79 -2.67 L7.49 -6 L7.49 -8 L6.79 -11.34 L5.37 -13.34 L3.25 -14.01 L1.84 -14.01M11.64 -17.04 L11.64 -17.48 L12.05 -18.36 L12.47 -18.8 L13.31 -19.24 L14.97 -19.24 L15.81 -18.8 L16.23 -18.36 L16.64 -17.48 L16.64 -16.6 L16.23 -15.72 L15.39 -14.4 L11.22 -10 L17.06 -10" fill="none" stroke="#000" stroke-width="1.6" stroke-linecap="round" stroke-linejoin="round"/></g>
<g transform="translate(352.9 538.9)"><path d="M-14.42 -11.34 L-13.01 -12.01 L-10.89 -14.01 L-10.89 0M1.84 -14.01 L-0.28 -13.34 L-1.7 -11.34 L-2.4 -8 L-2.4 -6 L-1.7 -2.67 L-0.28 -0.67 L1.84 0 L3.25 0 L5.37 -0.67 L6.79 -2.67 L7.49 -6 L7.49 -8 L6.79 -11.34 L5.37 -13.34 L3.25 -14.01 L1.84 -14.01M12.05 -19.24 L16.64 -19.24 L14.14 -15.72 L15.39 -15.72 L16.23 -15.28 L16.64 -14.84 L17.06 -13.52 L17.06 -12.64 L16.64 -11.32 L15.81 -10.44 L14.56 -10 L13.31 -10 L12.05 -10.44 L11.64 -10.88 L11.22 -11.76" fill="none" stroke="#000" stroke-width="1.6" stroke-linecap="round" stroke-linejoin="round"/></g>
<g transform="translate(571.1 538.9)"><path d="M-14.42 -11.34 L-13.01 -12.01 L-10.89 -14.01 L-10.89 0M1.84 -14.01 L-0.28 -13.34 L-1.7 -11.34 L-2.4 -8 L-2.4 -6 L-1.7 -2.67 L-0.28 -0.67 L1.84 0 L3.25 0 L5.37 -0.67 L6.79 -2.67 L7.49 -6 L7.49 -8 L6.79 -11.34 L5.37 -13.34 L3.25 -14.01 L1.84 -14.01M15.39 -19.24 L11.22 -13.08 L17.48 -13.08M15.39 -19.24 L15.39 -10" fill="none" stroke="#000" stroke-width="1.6" stroke-linecap="round" stroke-linejoin="round"/></g>
<g transform="translate(789.3 538.9)"><path d="M-14.42 -11.34 L-13.01 -12.01 L-10.89 -14.01 L-10.89 0M1.84 -14.01 L-0.28 -13.34 L-1.7 -11.34 L-2.4 -8 L-2.4 -6 L-1.7 -2.67 L-0.28 -0.67 L1.84 0 L3.25 0 L5.37 -0.67 L6.79 -2.67 L7.49 -6 L7.49 -8 L6.79 -11.34 L5.37 -13.34 L3.25 -14.01 L1.84 -14.01M16.23 -19.24 L12.05 -19.24 L11.64 -15.28 L12.05 -15.72 L13.31 -16.16 L14.56 -16.16 L15.81 -15.72 L16.64 -14.84 L17.06 -13.52 L17.06 -12.64 L16.64 -11.32 L15.81 -10.44 L14.56 -10 L13.31 -10 L12.05 -10.44 L11.64 -10.88 L11.22 -11.76" fill="none" stroke="#000" stroke-width="1.6" stroke-linecap="round" stroke-linejoin="round"/></g>
<g transform="translate(127.5 506.9)"><path d="M-53.9 -11.34 L-52.49 -12.01 L-50.37 -14.01 L-50.37 0M-37.64 -14.01 L-39.76 -13.34 L-41.18 -11.34 L-41.88 -8 L-41.88 -6 L-41.18 -2.67 L-39.76 -0.67 L-37.64 0 L-36.23 0 L-34.11 -0.67 L-32.69 -2.67 L-31.98 -6 L-31.98 -8 L-32.69 -11.34 L-34.11 -13.34 L-36.23 -14.01 L-37.64 -14.01M-27.74 -13.96 L-20.23 -13.96M-15.24 -17.48 L-14.41 -17.92 L-13.16 -19.24 L-13.16 -10M-4.94 -19.24 L-6.19 -18.8 L-7.03 -17.48 L-7.44 -15.28 L-7.44 -13.96 L-7.03 -11.76 L-6.19 -10.44 L-4.94 -10 L-4.11 -10 L-2.86 -10.44 L-2.02 -11.76 L-1.6 -13.96 L-1.6 -15.28 L-2.02 -17.48 L-2.86 -18.8 L-4.11 -19.24 L-4.94 -19.24" fill="none" stroke="#000" stroke-width="1.6" stroke-linecap="round" stroke-linejoin="round"/></g>
<g transform="translate(127.5 437.97)"><path d="M-44.85 -11.34 L-43.44 -12.01 L-41.32 -14.01 L-41.32 0M-28.59 -14.01 L-30.71 -13.34 L-32.13 -11.34 L-32.83 -8 L-32.83 -6 L-32.13 -2.67 L-30.71 -0.67 L-28.59 0 L-27.18 0 L-25.06 -0.67 L-23.64 -2.67 L-22.94 -6 L-22.94 -8 L-23.64 -11.34 L-25.06 -13.34 L-27.18 -14.01 L-28.59 -14.01M-18.69 -13.96 L-11.18 -13.96M-5.36 -19.24 L-6.61 -18.8 L-7.03 -17.92 L-7.03 -17.04 L-6.61 -16.16 L-5.78 -15.72 L-4.11 -15.28 L-2.86 -14.84 L-2.02 -13.96 L-1.6 -13.08 L-1.6 -11.76 L-2.02 -10.88 L-2.44 -10.44 L-3.69 -10 L-5.36 -10 L-6.61 -10.44 L-7.03 -10.88 L-7.44 -11.76 L-7.44 -13.08 L-7.03 -13.96 L-6.19 -14.84 L-4.94 -15.28 L-3.27 -15.72 L-2.44 -16.16 L-2.02 -17.04 L-2.02 -17.92 L-2.44 -18.8 L-3.69 -19.24 L-5.36 -19.24" fill="none" stroke="#000" stroke-width="1.6" stroke-linecap="round" stroke-linejoin="round"/></g>
<g transform="translate(127.5 360.53)"><path d="M-44.85 -11.34 L-43.44 -12.01 L-41.32 -14.01 L-41.32 0M-28.59 -14.01 L-30.71 -13.34 L-32.13 -11.34 L-32.83 -8 L-32.83 -6 L-32.13 -2.67 L-30.71 -0.67 L-28.59 0 L-27.18 0 L-25.06 -0.67 L-23.64 -2.67 L-22.94 -6 L-22.94 -8 L-23.64 -11.34 L-25.06 -13.34 L-27.18 -14.01 L-28.59 -14.01M-18.69 -13.96 L-11.18 -13.96M-2.02 -17.92 L-2.44 -18.8 L-3.69 -19.24 L-4.52 -19.24 L-5.78 -18.8 L-6.61 -17.48 L-7.03 -15.28 L-7.03 -13.08 L-6.61 -11.32 L-5.78 -10.44 L-4.52 -10 L-4.11 -10 L-2.86 -10.44 L-2.02 -11.32 L-1.6 -12.64 L-1.6 -13.08 L-2.02 -14.4 L-2.86 -15.28 L-4.11 -15.72 L-4.52 -15.72 L-5.78 -15.28 L-6.61 -14.4 L-7.03 -13.08" fill="none" stroke="#000" stroke-width="1.6" stroke-linecap="round" stroke-linejoin="round"/></g>
<g transform="translate(127.5 283.1)"><path d="M-44.85 -11.34 L-43.44 -12.01 L-41.32 -14.01 L-41.32 0M-28.59 -14.01 L-30.71 -13.34 L-32.13 -11.34 L-32.83 -8 L-32.83 -6 L-32.13 -2.67 L-30.71 -0.67 L-28.59 0 L-27.18 0 L-25.06 -0.67 L-23.64 -2.67 L-22.94 -6 L-22.94 -8 L-23.64 -11.34 L-25.06 -13.34 L-27.18 -14.01 L-28.59 -14.01M-18.69 -13.96 L-11.18 -13.96M-3.27 -19.24 L-7.44 -13.08 L-1.19 -13.08M-3.27 -19.24 L-3.27 -10" fill="none" stroke="#000" stroke-width="1.6" stroke-linecap="round" stroke-linejoin="round"/></g>
<g transform="translate(127.5 205.67)"><path d="M-44.85 -11.34 L-43.44 -12.01 L-41.32 -14.01 L-41.32 0M-28.59 -14.01 L-30.71 -13.34 L-32.13 -11.34 L-32.83 -8 L-32.83 -6 L-32.13 -2.67 L-30.71 -0.67 L-28.59 0 L-27.18 0 L-25.06 -0.67 L-23.64 -2.67 L-22.94 -6 L-22.94 -8 L-23.64 -11.34 L-25.06 -13.34 L-27.18 -14.01 L-28.59 -14.01M-18.69 -13.96 L-11.18 -13.96M-7.03 -17.04 L-7.03 -17.48 L-6.61 -18.36 L-6.19 -18.8 L-5.36 -19.24 L-3.69 -19.24 L-2.86 -18.8 L-2.44 -18.36 L-2.02 -17.48 L-2.02 -16.6 L-2.44 -15.72 L-3.27 -14.4 L-7.44 -10 L-1.6 -10" fill="none" stroke="#000" stroke-width="1.6" stroke-linecap="round" stroke-linejoin="round"/></g>
<g transform="translate(127.5 128.23)"><path d="M-33.09 -11.34 L-31.67 -12.01 L-29.55 -14.01 L-29.55 0M-16.83 -14.01 L-18.95 -13.34 L-20.36 -11.34 L-21.07 -8 L-21.07 -6 L-20.36 -2.67 L-18.95 -0.67 L-16.83 0 L-15.41 0 L-13.29 -0.67 L-11.88 -2.67 L-11.17 -6 L-11.17 -8 L-11.88 -11.34 L-13.29 -13.34 L-15.41 -14.01 L-16.83 -14.01M-4.94 -19.24 L-6.19 -18.8 L-7.03 -17.48 L-7.44 -15.28 L-7.44 -13.96 L-7.03 -11.76 L-6.19 -10.44 L-4.94 -10 L-4.11 -10 L-2.86 -10.44 L-2.02 -11.76 L-1.6 -13.96 L-1.6 -15.28 L-2.02 -17.48 L-2.86 -18.8 L-4.11 -19.24 L-4.94 -19.24" fill="none" stroke="#000" stroke-width="1.6" stroke-linecap="round" stroke-linejoin="round"/></g>
<g transform="translate(127.5 57)"><path d="M-33.09 -11.34 L-31.67 -12.01 L-29.55 -14.01 L-29.55 0M-16.83 -14.01 L-18.95 -13.34 L-20.36 -11.34 L-21.07 -8 L-21.07 -6 L-20.36 -2.67 L-18.95 -0.67 L-16.83 0 L-15.41 0 L-13.29 -0.67 L-11.88 -2.67 L-11.17 -6 L-11.17 -8 L-11.88 -11.34 L-13.29 -13.34 L-15.41 -14.01 L-16.83 -14.01M-7.03 -17.04 L-7.03 -17.48 L-6.61 -18.36 L-6.19 -18.8 L-5.36 -19.24 L-3.69 -19.24 L-2.86 -18.8 L-2.44 -18.36 L-2.02 -17.48 L-2.02 -16.6 L-2.44 -15.72 L-3.27 -14.4 L-7.44 -10 L-1.6 -10" fill="none" stroke="#000" stroke-width="1.6" stroke-linecap="round" stroke-linejoin="round"/></g>
<g transform="translate(461.6 566.5)"><path d="M0 -14.01 L0 0" fill="none" stroke="#000" stroke-width="1.6" stroke-linecap="round" stroke-linejoin="round"/></g>
<g transform="translate(179.87 80.8)"><path d="M2.83 -14.01 L2.83 0M8.48 -6 L21.21 -6M26.87 -14.01 L26.87 0M26.87 -14.01 L33.23 -14.01 L35.35 -13.34 L36.06 -12.67 L36.76 -11.34 L36.76 -10.01 L36.06 -8.67 L35.35 -8 L33.23 -7.34M26.87 -7.34 L33.23 -7.34 L35.35 -6.67 L36.06 -6 L36.76 -4.67 L36.76 -2.67 L36.06 -1.33 L35.35 -0.67 L33.23 0 L26.87 0M49.49 -9.34 L49.49 0M49.49 -7.34 L48.08 -8.67 L46.66 -9.34 L44.54 -9.34 L43.13 -8.67 L41.71 -7.34 L41.01 -5.34 L41.01 -4 L41.71 -2 L43.13 -0.67 L44.54 0 L46.66 0 L48.08 -0.67 L49.49 -2M55.15 -9.34 L55.15 0M55.15 -6.67 L57.27 -8.67 L58.68 -9.34 L60.8 -9.34 L62.22 -8.67 L62.92 -6.67 L62.92 0M76.36 -14.01 L76.36 0M76.36 -7.34 L74.94 -8.67 L73.53 -9.34 L71.41 -9.34 L69.99 -8.67 L68.58 -7.34 L67.87 -5.34 L67.87 -4 L68.58 -2 L69.99 -0.67 L71.41 0 L73.53 0 L74.94 -0.67 L76.36 -2M103.22 -10.67 L102.52 -12.01 L101.1 -13.34 L99.69 -14.01 L96.86 -14.01 L95.44 -13.34 L94.03 -12.01 L93.32 -10.67 L92.62 -8.67 L92.62 -5.34 L93.32 -3.33 L94.03 -2 L95.44 -0.67 L96.86 0 L99.69 0 L101.1 -0.67 L102.52 -2 L103.22 -3.33M108.17 -14.01 L108.17 0M113.83 -14.01 L113.83 0M113.83 -14.01 L120.19 -14.01 L122.31 -13.34 L123.02 -12.67 L123.72 -11.34 L123.72 -10.01 L123.02 -8.67 L122.31 -8 L120.19 -7.34M113.83 -7.34 L120.19 -7.34 L122.31 -6.67 L123.02 -6 L123.72 -4.67 L123.72 -2.67 L123.02 -1.33 L122.31 -0.67 L120.19 0 L113.83 0M128.67 -14.01 L128.67 0M128.67 -14.01 L137.86 -14.01M128.67 -7.34 L134.33 -7.34M128.67 0 L137.86 0M142.11 -14.01 L142.11 0M142.11 -14.01 L148.47 -14.01 L150.59 -13.34 L151.3 -12.67 L152 -11.34 L152 -10.01 L151.3 -8.67 L150.59 -8 L148.47 -7.34 L142.11 -7.34M147.06 -7.34 L152 0" fill="none" stroke="#000" stroke-width="1.6" stroke-linecap="round" stroke-linejoin="round"/></g>
<g transform="translate(49.7 427.83) rotate(-90)"><path d="M2.83 -14.01 L2.83 0M13.43 -16.68 L12.02 -15.25 L10.61 -13.1 L9.19 -10.24 L8.48 -6.67 L8.48 -3.81 L9.19 -0.23 L10.61 2.63 L12.02 4.77 L13.43 6.2M18.38 -14.01 L18.38 0M30.4 -12.01 L30.4 0M24.04 -6 L36.76 -6M43.83 -11.34 L45.25 -12.01 L47.37 -14.01 L47.37 0M55.85 -16.68 L57.27 -15.25 L58.68 -13.1 L60.09 -10.24 L60.8 -6.67 L60.8 -3.81 L60.09 -0.23 L58.68 2.63 L57.27 4.77 L55.85 6.2M76.36 -10.67 L75.65 -12.01 L74.23 -13.34 L72.82 -14.01 L69.99 -14.01 L68.58 -13.34 L67.16 -12.01 L66.46 -10.67 L65.75 -8.67 L65.75 -5.34 L66.46 -3.33 L67.16 -2 L68.58 -0.67 L69.99 0 L72.82 0 L74.23 -0.67 L75.65 -2 L76.36 -3.33M80.29 -2 L80.29 5.7M96.24 -16.68 L83.51 6.2M100.48 -10.67 L100.48 -11.34 L101.19 -12.67 L101.89 -13.34 L103.31 -14.01 L106.13 -14.01 L107.55 -13.34 L108.26 -12.67 L108.96 -11.34 L108.96 -10.01 L108.26 -8.67 L106.84 -6.67 L99.77 0 L109.67 0M118.15 -9.34 L115.33 0M121.69 -9.34 L122.4 -5.34 L123.1 -2 L123.81 0M113.2 -7.34 L114.62 -8.67 L116.74 -9.34 L125.93 -9.34M146.43 -16.68 L145.02 -15.25 L143.61 -13.1 L142.19 -10.24 L141.48 -6.67 L141.48 -3.81 L142.19 -0.23 L143.61 2.63 L145.02 4.77 L146.43 6.2M151.38 -9.34 L151.38 0M151.38 -6.67 L153.5 -8.67 L154.92 -9.34 L157.04 -9.34 L158.45 -8.67 L159.16 -6.67 L159.16 0M163.4 -14.01 L166.94 0M170.47 -14.01 L166.94 0M170.47 -14.01 L174.01 0M177.54 -14.01 L174.01 0M180.98 -17.04 L180.98 -17.48 L181.39 -18.36 L181.81 -18.8 L182.65 -19.24 L184.31 -19.24 L185.15 -18.8 L185.57 -18.36 L185.98 -17.48 L185.98 -16.6 L185.57 -15.72 L184.73 -14.4 L180.56 -10 L186.4 -10M202.15 -9.34 L202.15 0M202.15 -6.67 L204.27 -8.67 L205.68 -9.34 L207.8 -9.34 L209.22 -8.67 L209.92 -6.67 L209.92 0M209.92 -6.67 L212.04 -8.67 L213.46 -9.34 L215.58 -9.34 L216.99 -8.67 L217.7 -6.67 L217.7 0M222.66 -13.96 L230.16 -13.96M238.07 -19.24 L233.9 -13.08 L240.15 -13.08M238.07 -19.24 L238.07 -10M262.55 -7.34 L261.84 -8.67 L259.72 -9.34 L257.6 -9.34 L255.48 -8.67 L254.77 -7.34 L255.48 -6 L256.9 -5.34 L260.43 -4.67 L261.84 -4 L262.55 -2.67 L262.55 -2 L261.84 -0.67 L259.72 0 L257.6 0 L255.48 -0.67 L254.77 -2M267.5 -9.34 L267.5 0M267.5 -5.34 L268.21 -7.34 L269.62 -8.67 L271.04 -9.34 L273.16 -9.34M275.99 -13.96 L283.5 -13.96M287.65 -17.04 L287.65 -17.48 L288.07 -18.36 L288.48 -18.8 L289.32 -19.24 L290.99 -19.24 L291.82 -18.8 L292.24 -18.36 L292.66 -17.48 L292.66 -16.6 L292.24 -15.72 L291.4 -14.4 L287.23 -10 L293.07 -10M296.8 -16.68 L298.21 -15.25 L299.63 -13.1 L301.04 -10.24 L301.75 -6.67 L301.75 -3.81 L301.04 -0.23 L299.63 2.63 L298.21 4.77 L296.8 6.2" fill="none" stroke="#000" stroke-width="1.6" stroke-linecap="round" stroke-linejoin="round"/></g>
</svg>
</body></html>
